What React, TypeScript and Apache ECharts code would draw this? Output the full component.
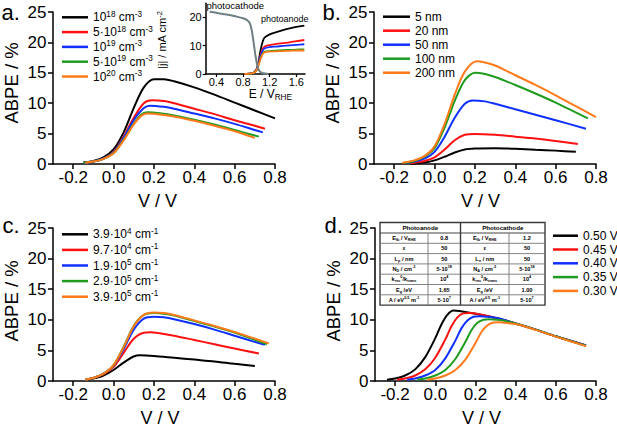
import React, { useEffect, useRef } from 'react';
import * as echarts from 'echarts';

const FONT = "'Liberation Sans', Arial, Helvetica, sans-serif";
const COLORS = ['#000000', '#ff1010', '#1030ff', '#1f9c1f', '#ff7a1a'];
const CATHODE_COLOR = '#6f7f84';

const X_TICKS = [-0.2, 0, 0.2, 0.4, 0.6, 0.8];
const INSET_X_TICKS = [0.4, 0.8, 1.2, 1.6];
const INSET_Y_TICKS = [0, 10, 20];

// ---------- panel a: doping density ----------
const A_NAMES = ['10^{18} cm^{-3}', '5·10^{18} cm^{-3}', '10^{19} cm^{-3}', '5·10^{19} cm^{-3}', '10^{20} cm^{-3}'];
const A_1E18 = [[-0.15, 0.2], [-0.1, 0.5], [-0.05, 1.1], [0, 2.4], [0.05, 5.2], [0.1, 9.2], [0.15, 12.6], [0.2, 13.95], [0.25, 13.95], [0.3, 13.6], [0.4, 12.6], [0.5, 11.4], [0.6, 10.1], [0.7, 8.8], [0.8, 7.5]];
const A_5E18 = [[-0.15, 0.2], [-0.1, 0.4], [-0.05, 0.9], [0, 2.0], [0.05, 4.5], [0.1, 7.6], [0.15, 10.0], [0.19, 10.5], [0.25, 10.35], [0.3, 10.0], [0.4, 9.1], [0.5, 8.2], [0.6, 7.2], [0.7, 6.3], [0.75, 5.8]];
const A_1E19 = [[-0.15, 0.2], [-0.1, 0.4], [-0.05, 0.9], [0, 1.9], [0.05, 4.3], [0.1, 7.2], [0.15, 9.2], [0.18, 9.6], [0.25, 9.4], [0.3, 9.1], [0.4, 8.3], [0.5, 7.5], [0.6, 6.6], [0.7, 5.6], [0.74, 5.2]];
const A_5E19 = [[-0.15, 0.2], [-0.1, 0.4], [-0.05, 0.85], [0, 1.8], [0.05, 4.0], [0.1, 6.6], [0.14, 8.2], [0.17, 8.5], [0.22, 8.4], [0.3, 8.0], [0.4, 7.3], [0.5, 6.5], [0.6, 5.6], [0.72, 4.5]];
const A_1E20 = [[-0.14, 0.2], [-0.1, 0.4], [-0.05, 0.85], [0, 1.75], [0.05, 3.9], [0.1, 6.5], [0.14, 8.0], [0.17, 8.3], [0.22, 8.2], [0.3, 7.8], [0.4, 7.1], [0.5, 6.3], [0.6, 5.4], [0.7, 4.3]];

// ---------- inset of panel a: |j| vs E ----------
const INSET_CATHODE = [[0.3, 22.0], [0.4, 21.6], [0.5, 21.2], [0.6, 20.8], [0.7, 20.3], [0.8, 19.7], [0.85, 19.2], [0.9, 18.0], [0.93, 15.5], [0.96, 11.0], [0.99, 6.0], [1.02, 2.5], [1.05, 0.9], [1.1, 0.25], [1.18, 0.0]];
const INSET_1E18 = [[0.85, 0], [0.95, 0.3], [1.0, 1.5], [1.03, 4.0], [1.06, 8.0], [1.09, 11.0], [1.12, 12.8], [1.2, 14.0], [1.3, 14.8], [1.4, 15.5], [1.5, 16.1], [1.6, 16.6], [1.72, 17.1]];
const INSET_5E18 = [[0.85, 0], [0.95, 0.3], [1.0, 1.4], [1.03, 3.6], [1.06, 6.5], [1.09, 8.6], [1.12, 9.6], [1.2, 10.2], [1.3, 10.6], [1.4, 10.9], [1.5, 11.2], [1.6, 11.6], [1.72, 12.0]];
const INSET_1E19 = [[0.85, 0], [0.95, 0.3], [1.0, 1.3], [1.03, 3.4], [1.06, 6.1], [1.09, 8.0], [1.12, 9.0], [1.2, 9.5], [1.3, 9.7], [1.4, 9.9], [1.5, 10.1], [1.6, 10.3], [1.72, 10.5]];
const INSET_5E19 = [[0.85, 0], [0.95, 0.3], [1.0, 1.2], [1.03, 3.0], [1.06, 5.3], [1.09, 7.0], [1.12, 7.8], [1.2, 8.1], [1.3, 8.25], [1.4, 8.4], [1.5, 8.5], [1.6, 8.6], [1.72, 8.7]];
const INSET_1E20 = [[0.82, 0], [0.95, 0.3], [1.0, 1.2], [1.03, 2.9], [1.06, 5.1], [1.09, 6.8], [1.12, 7.6], [1.2, 7.9], [1.3, 8.0], [1.4, 8.1], [1.5, 8.2], [1.6, 8.3], [1.72, 8.3]];

// ---------- panel b: film thickness ----------
const B_NAMES = ['5 nm', '20 nm', '50 nm', '100 nm', '200 nm'];
const B_5 = [[-0.12, 0.05], [-0.1, 0.1], [-0.05, 0.25], [0, 0.6], [0.05, 1.2], [0.1, 1.9], [0.15, 2.4], [0.2, 2.55], [0.3, 2.6], [0.4, 2.5], [0.5, 2.35], [0.6, 2.2], [0.7, 2.0]];
const B_20 = [[-0.12, 0.1], [-0.1, 0.2], [-0.05, 0.5], [0, 1.1], [0.05, 2.4], [0.1, 3.9], [0.15, 4.8], [0.2, 4.95], [0.3, 4.8], [0.4, 4.5], [0.5, 4.2], [0.6, 3.8], [0.71, 3.3]];
const B_50 = [[-0.14, 0.15], [-0.1, 0.4], [-0.05, 0.9], [0, 2.0], [0.05, 4.5], [0.1, 7.6], [0.15, 9.9], [0.19, 10.45], [0.25, 10.3], [0.3, 9.9], [0.4, 9.0], [0.5, 8.1], [0.6, 7.2], [0.75, 5.8]];
const B_100 = [[-0.15, 0.2], [-0.1, 0.5], [-0.05, 1.2], [0, 2.6], [0.05, 6.0], [0.1, 10.4], [0.15, 13.8], [0.2, 15.0], [0.25, 14.8], [0.3, 14.3], [0.4, 13.0], [0.5, 11.6], [0.6, 10.1], [0.76, 7.5]];
const B_200 = [[-0.16, 0.2], [-0.1, 0.6], [-0.05, 1.3], [0, 2.9], [0.05, 6.6], [0.1, 11.4], [0.15, 15.2], [0.21, 16.9], [0.25, 16.7], [0.3, 16.2], [0.4, 14.6], [0.5, 13.0], [0.6, 11.3], [0.7, 9.5], [0.8, 7.7]];

// ---------- panel c: absorption coefficient ----------
const C_NAMES = ['3.9·10^{4} cm^{-1}', '9.7·10^{4} cm^{-1}', '1.9·10^{5} cm^{-1}', '2.9·10^{5} cm^{-1}', '3.9·10^{5} cm^{-1}'];
const C_39E4 = [[-0.14, 0.15], [-0.1, 0.4], [-0.05, 0.9], [0, 1.8], [0.05, 3.0], [0.1, 4.0], [0.13, 4.2], [0.2, 4.1], [0.3, 3.8], [0.4, 3.5], [0.5, 3.2], [0.6, 2.8], [0.7, 2.45]];
const C_97E4 = [[-0.14, 0.2], [-0.1, 0.5], [-0.05, 1.1], [0, 2.3], [0.05, 4.6], [0.1, 6.9], [0.15, 7.9], [0.18, 7.95], [0.22, 7.85], [0.3, 7.4], [0.4, 6.7], [0.5, 6.0], [0.6, 5.3], [0.72, 4.5]];
const C_19E5 = [[-0.14, 0.2], [-0.1, 0.5], [-0.05, 1.2], [0, 2.5], [0.05, 5.2], [0.1, 8.4], [0.15, 10.2], [0.2, 10.5], [0.25, 10.4], [0.3, 10.1], [0.4, 9.3], [0.5, 8.4], [0.6, 7.4], [0.75, 5.9]];
const C_29E5 = [[-0.14, 0.2], [-0.1, 0.5], [-0.05, 1.2], [0, 2.6], [0.05, 5.6], [0.1, 9.0], [0.15, 10.8], [0.2, 11.1], [0.25, 11.0], [0.3, 10.7], [0.4, 9.8], [0.5, 8.9], [0.6, 7.9], [0.76, 6.0]];
const C_39E5 = [[-0.14, 0.2], [-0.1, 0.5], [-0.05, 1.2], [0, 2.6], [0.05, 5.5], [0.1, 8.9], [0.15, 10.8], [0.2, 11.2], [0.25, 11.1], [0.3, 10.8], [0.4, 9.9], [0.5, 9.0], [0.6, 8.0], [0.77, 6.15]];

// ---------- panel d: photocathode potential ----------
const D_NAMES = ['0.50 V', '0.45 V', '0.40 V', '0.35 V', '0.30 V'];
const D_050 = [[-0.24, 0.2], [-0.2, 0.4], [-0.15, 0.9], [-0.1, 1.9], [-0.05, 3.9], [0, 7.0], [0.03, 9.2], [0.06, 10.8], [0.09, 11.5], [0.12, 11.45], [0.2, 11.0], [0.3, 10.3], [0.4, 9.4], [0.5, 8.4], [0.6, 7.3], [0.75, 5.8]];
const D_045 = [[-0.19, 0.2], [-0.15, 0.4], [-0.1, 0.9], [-0.05, 1.9], [0, 3.8], [0.05, 6.8], [0.08, 8.9], [0.11, 10.4], [0.14, 11.05], [0.17, 11.1], [0.22, 10.9], [0.3, 10.3], [0.4, 9.4], [0.5, 8.4], [0.6, 7.3], [0.75, 5.8]];
const D_040 = [[-0.14, 0.2], [-0.1, 0.4], [-0.05, 0.9], [0, 1.8], [0.05, 3.7], [0.1, 6.6], [0.13, 8.6], [0.16, 9.9], [0.19, 10.5], [0.22, 10.6], [0.26, 10.5], [0.32, 10.2], [0.4, 9.4], [0.5, 8.4], [0.6, 7.3], [0.75, 5.8]];
const D_035 = [[-0.09, 0.2], [-0.05, 0.4], [0, 0.9], [0.05, 1.8], [0.1, 3.6], [0.15, 6.4], [0.18, 8.3], [0.21, 9.5], [0.24, 10.0], [0.27, 10.1], [0.31, 10.0], [0.35, 9.8], [0.4, 9.4], [0.5, 8.4], [0.6, 7.3], [0.75, 5.75]];
const D_030 = [[-0.04, 0.2], [0, 0.4], [0.05, 0.9], [0.1, 1.8], [0.15, 3.5], [0.2, 6.2], [0.23, 8.0], [0.26, 9.1], [0.29, 9.55], [0.32, 9.6], [0.35, 9.5], [0.4, 9.3], [0.5, 8.35], [0.6, 7.25], [0.75, 5.7]];

// ---------- parameter table of panel d ----------
const TABLE_HEADERS = ['Photoanode', 'Photocathode'];
const ANODE_LABELS = ['E_{fb} / V_{RHE}', 'ε', 'L_{p} / nm', 'N_{D} / cm^{-3}', 'k_{rec}^{0}/k_{trans}', 'E_{g} /eV', 'A / eV^{0.5} m^{-1}'];
const ANODE_VALUES = ['0.8', '50', '50', '5·10^{18}', '10^{4}', '1.65', '5·10^{7}'];
const CATHODE_LABELS = ['E_{fb} / V_{RHE}', 'ε', 'L_{n} / nm', 'N_{A} / cm^{-3}', 'k_{rec}^{0}/k_{trans}', 'E_{g} /eV', 'A / eV^{0.5} m^{-1}'];
const CATHODE_VALUES = ['1.2', '50', '50', '5·10^{18}', '10^{4}', '1.00', '5·10^{7}'];

// convert ^{..} / _{..} notation into ECharts rich-text markup
function toRich(s: string): string {
  let out = '';
  let buf = '';
  const flush = () => {
    if (buf) { out += `{n|${buf}}`; buf = ''; }
  };
  let i = 0;
  while (i < s.length) {
    const c = s[i];
    if ((c === '^' || c === '_') && s[i + 1] === '{') {
      const j = s.indexOf('}', i);
      flush();
      out += `{${c === '^' ? 'p' : 'b'}|${s.slice(i + 2, j)}}`;
      i = j + 1;
    } else {
      buf += c;
      i++;
    }
  }
  flush();
  return out;
}

function richStyles(fs: number, lh: number, weight: string = 'normal', color: string = '#000') {
  const small = Math.round(fs * 0.68 * 10) / 10;
  return {
    n: { fontFamily: FONT, fontSize: fs, lineHeight: lh, fontWeight: weight, color },
    p: { fontFamily: FONT, fontSize: small, lineHeight: small + 0.5, fontWeight: weight, color, verticalAlign: 'top' },
    b: { fontFamily: FONT, fontSize: small, lineHeight: small + 0.5, fontWeight: weight, color, verticalAlign: 'bottom' },
  };
}

const GRIDS = [
  { left: 53, top: 12, width: 222, height: 152 },
  { left: 374, top: 12, width: 222, height: 152 },
  { left: 53, top: 228, width: 222, height: 153 },
  { left: 375, top: 228, width: 221, height: 153 },
  { left: 205.7, top: 3.2, width: 99.3, height: 70.8 },
];

const AXIS_LINE = { show: true, onZero: false, lineStyle: { color: '#000', width: 1.5 } };

function mainX(gridIndex: number, shift: number) {
  return {
    type: 'value', gridIndex, min: -0.3, max: 0.8,
    name: 'V / V', nameLocation: 'middle', nameGap: 28,
    nameTextStyle: { fontFamily: FONT, fontSize: 18, color: '#000', padding: [0, shift, 0, 0] },
    axisLine: AXIS_LINE,
    axisTick: { show: true, length: 5, lineStyle: { color: '#000', width: 1.5 }, customValues: X_TICKS },
    axisLabel: { fontFamily: FONT, fontSize: 17, color: '#000', margin: 5, customValues: X_TICKS, formatter: (v: number) => v.toFixed(1) },
    splitLine: { show: false },
  };
}

function mainY(gridIndex: number, shift: number) {
  return {
    type: 'value', gridIndex, min: 0, max: 25, interval: 5,
    name: 'ABPE / %', nameLocation: 'middle', nameGap: 32, nameRotate: 90,
    nameTextStyle: { fontFamily: FONT, fontSize: 18.5, color: '#000', padding: [0, 0, 0, shift] },
    axisLine: AXIS_LINE,
    axisTick: { show: true, length: 5, lineStyle: { color: '#000', width: 1.5 } },
    axisLabel: { fontFamily: FONT, fontSize: 17, color: '#000', margin: 6.5 },
    splitLine: { show: false },
  };
}

function line(name: string, data: number[][], color: string, axis: number, width = 2) {
  return {
    type: 'line', name, data, xAxisIndex: axis, yAxisIndex: axis,
    symbol: 'none', showSymbol: false, smooth: 0.3,
    lineStyle: { color, width }, itemStyle: { color },
    emphasis: { disabled: true }, silent: true,
  };
}

function legend(names: string[], left: number, top: number, itemWidth: number, lh: number, gap: number, fs = 12) {
  return {
    data: names, left, top, orient: 'vertical', icon: 'rect',
    itemWidth, itemHeight: 2.5, itemGap: gap, padding: 0, selectedMode: false,
    formatter: (n: string) => toRich(n),
    textStyle: { fontFamily: FONT, fontSize: fs, lineHeight: lh, color: '#000', rich: richStyles(fs, lh) },
  };
}

function buildTable(): any[] {
  const TX = [380, 428, 460.5, 509, 545];
  const TY0 = 222.5;
  const HEAD_H = 10.5;
  const ROW_H = 10.3;
  const bottom = TY0 + HEAD_H + ROW_H * ANODE_LABELS.length;
  const els: any[] = [];
  els.push({ type: 'rect', shape: { x: TX[0], y: TY0, width: TX[4] - TX[0], height: bottom - TY0 }, style: { fill: '#fff', stroke: '#3a3a3a', lineWidth: 1.4 }, z: 100 });
  const gl = (x1: number, y1: number, x2: number, y2: number, w = 0.9, c = '#666') =>
    els.push({ type: 'line', shape: { x1, y1, x2, y2 }, style: { stroke: c, lineWidth: w }, z: 101 });
  for (let r = 0; r <= ANODE_LABELS.length - 1; r++) {
    const y = TY0 + HEAD_H + ROW_H * r;
    gl(TX[0], y, TX[4], y, r === 0 ? 1.2 : 0.9, r === 0 ? '#444' : '#777');
  }
  gl(TX[2], TY0, TX[2], bottom, 1.4, '#3a3a3a');
  gl(TX[1], TY0 + HEAD_H, TX[1], bottom, 0.9, '#777');
  gl(TX[3], TY0 + HEAD_H, TX[3], bottom, 0.9, '#777');
  const rs = richStyles(5.6, 8, 'bold', '#333');
  const txt = (s: string, x: number, y: number, fs = 5.6) =>
    els.push({
      type: 'text', z: 102,
      style: { text: toRich(s), rich: fs === 5.6 ? rs : richStyles(fs, fs + 2, 'bold', '#333'), x, y, align: 'center', verticalAlign: 'middle', textAlign: 'center', textVerticalAlign: 'middle' },
    });
  txt(TABLE_HEADERS[0], (TX[0] + TX[2]) / 2, TY0 + HEAD_H / 2, 6.2);
  txt(TABLE_HEADERS[1], (TX[2] + TX[4]) / 2, TY0 + HEAD_H / 2, 6.2);
  ANODE_LABELS.forEach((s, r) => {
    const y = TY0 + HEAD_H + ROW_H * (r + 0.5);
    txt(s, (TX[0] + TX[1]) / 2, y);
    txt(ANODE_VALUES[r], (TX[1] + TX[2]) / 2, y);
    txt(CATHODE_LABELS[r], (TX[2] + TX[3]) / 2, y);
    txt(CATHODE_VALUES[r], (TX[3] + TX[4]) / 2, y);
  });
  return els;
}

function panelLetter(t: string, x: number, y: number) {
  return {
    type: 'text', z: 50,
    style: { text: t, x, y, font: `22px ${FONT}`, fontSize: 22, fontFamily: FONT, fill: '#000', align: 'left', verticalAlign: 'middle', textAlign: 'left', textVerticalAlign: 'middle' },
  };
}

function smallText(t: string, x: number, y: number, fs: number) {
  return {
    type: 'text', z: 50,
    style: { text: t, x, y, font: `${fs}px ${FONT}`, fontSize: fs, fontFamily: FONT, fill: '#000', align: 'left', verticalAlign: 'middle', textAlign: 'left', textVerticalAlign: 'middle' },
  };
}

export default function App() {
  const ref = useRef<HTMLDivElement>(null);
  useEffect(() => {
    document.body.style.margin = '0';
    if (!ref.current) return;
    const chart = echarts.init(ref.current, undefined, { renderer: 'svg' });
    const insetRich = richStyles(11, 13);
    const option: any = {
      animation: false,
      backgroundColor: '#fff',
      grid: GRIDS.map((g) => ({ ...g, containLabel: false, outerBoundsMode: 'none' })),
      xAxis: [
        mainX(0, 13), mainX(1, 9), mainX(2, 8), mainX(3, 8),
        {
          type: 'value', gridIndex: 4, min: 0.24, max: 1.73,
          name: toRich('E / V_{RHE}'), nameLocation: 'middle', nameGap: 12,
          nameTextStyle: { fontFamily: FONT, fontSize: 12, color: '#000', rich: richStyles(12, 14), padding: [0, 0, 0, 30] },
          axisLine: AXIS_LINE,
          axisTick: { show: true, length: 3, lineStyle: { color: '#000', width: 1.2 }, customValues: INSET_X_TICKS },
          axisLabel: { fontFamily: FONT, fontSize: 11, color: '#000', margin: 2.5, customValues: INSET_X_TICKS, formatter: (v: number) => v.toFixed(1) },
          splitLine: { show: false },
        },
      ],
      yAxis: [
        mainY(0, 10), mainY(1, 10), mainY(2, 7), mainY(3, 7),
        {
          type: 'value', gridIndex: 4, min: 0, max: 25,
          name: toRich('|j| / mA cm^{-2}'), nameLocation: 'middle', nameGap: 37, nameRotate: 90,
          nameTextStyle: { fontFamily: FONT, fontSize: 11, color: '#000', rich: insetRich, padding: [0, 3, 0, 0] },
          axisLine: AXIS_LINE,
          axisTick: { show: true, length: 3, lineStyle: { color: '#000', width: 1.2 }, customValues: INSET_Y_TICKS },
          axisLabel: { fontFamily: FONT, fontSize: 11, color: '#000', margin: 4, customValues: INSET_Y_TICKS },
          splitLine: { show: false },
        },
      ],
      legend: [
        legend(A_NAMES, 62, 10.3, 26, 14, 0.8),
        legend(B_NAMES, 383, 9.7, 27, 14, 0),
        legend(C_NAMES, 62, 227.3, 26, 14, 1.6),
        legend(D_NAMES, 553, 228.8, 25, 13.8, 0),
      ],
      series: [
        line(A_NAMES[0], A_1E18, COLORS[0], 0),
        line(A_NAMES[1], A_5E18, COLORS[1], 0),
        line(A_NAMES[2], A_1E19, COLORS[2], 0),
        line(A_NAMES[3], A_5E19, COLORS[3], 0),
        line(A_NAMES[4], A_1E20, COLORS[4], 0),
        line(B_NAMES[0], B_5, COLORS[0], 1),
        line(B_NAMES[1], B_20, COLORS[1], 1),
        line(B_NAMES[2], B_50, COLORS[2], 1),
        line(B_NAMES[3], B_100, COLORS[3], 1),
        line(B_NAMES[4], B_200, COLORS[4], 1),
        line(C_NAMES[0], C_39E4, COLORS[0], 2),
        line(C_NAMES[1], C_97E4, COLORS[1], 2),
        line(C_NAMES[2], C_19E5, COLORS[2], 2),
        line(C_NAMES[3], C_29E5, COLORS[3], 2),
        line(C_NAMES[4], C_39E5, COLORS[4], 2),
        line(D_NAMES[0], D_050, COLORS[0], 3),
        line(D_NAMES[1], D_045, COLORS[1], 3),
        line(D_NAMES[2], D_040, COLORS[2], 3),
        line(D_NAMES[3], D_035, COLORS[3], 3),
        line(D_NAMES[4], D_030, COLORS[4], 3),
        line('photoanode 10^18', INSET_1E18, COLORS[0], 4, 1.8),
        line('photoanode 5·10^18', INSET_5E18, COLORS[1], 4, 1.8),
        line('photoanode 10^19', INSET_1E19, COLORS[2], 4, 1.8),
        line('photoanode 5·10^19', INSET_5E19, COLORS[3], 4, 1.8),
        line('photoanode 10^20', INSET_1E20, COLORS[4], 4, 1.8),
        line('photocathode', INSET_CATHODE, CATHODE_COLOR, 4, 2),
      ],
      graphic: [
        panelLetter('a.', 1.5, 12.4),
        panelLetter('b.', 322.5, 12.4),
        panelLetter('c.', 2.5, 225),
        panelLetter('d.', 324.5, 225),
        smallText('photocathode', 206.5, 5.5, 9.5),
        smallText('photoanode', 261, 18.5, 9),
        ...buildTable(),
      ],
    };
    chart.setOption(option);
    return () => chart.dispose();
  }, []);
  return <div ref={ref} style={{ position: 'absolute', left: 0, top: 0, width: 617, height: 427 }} />;
}
